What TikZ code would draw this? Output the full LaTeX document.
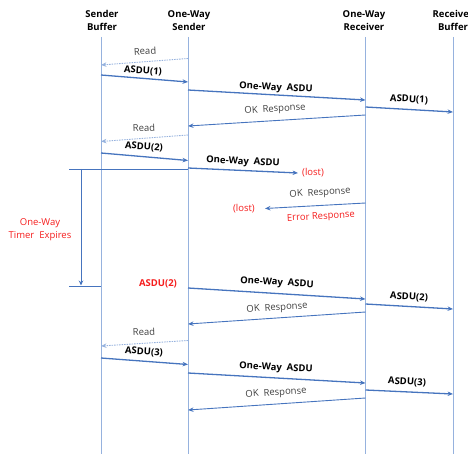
\documentclass[tikz,border=0pt]{standalone}
\usepackage{fontspec}
\setmainfont{Open Sans}
\usetikzlibrary{arrows.meta}
\definecolor{lifec}{RGB}{150,178,222}
\definecolor{arrc}{RGB}{70,116,190}
\definecolor{txtc}{RGB}{64,64,64}
\definecolor{redc}{RGB}{245,30,30}
\begin{document}
\begin{tikzpicture}[x=1pt,y=-1pt,
  font=\fontsize{9.5}{12}\selectfont,
  life/.style={draw=lifec, line width=1pt},
  tip/.style={-{Stealth[length=5.5pt,width=4.5pt]}},
  msg/.style={draw=arrc, line width=1.3pt, tip},
  resp/.style={draw=arrc, line width=0.9pt, tip},
  readarr/.style={draw=lifec, line width=0.9pt, dash pattern=on 1.5pt off 1pt, tip},
  timer/.style={draw=arrc, line width=0.8pt},
  hdr/.style={font=\bfseries\fontsize{9.5}{13}\selectfont, align=center, text=black, inner sep=0pt},
  lbl/.style={text=txtc, inner sep=0pt},
  blbl/.style={font=\bfseries\fontsize{9.5}{12}\selectfont, text=black, inner sep=0pt},
  lostlbl/.style={text=redc, inner sep=0pt},
  lostb/.style={font=\bfseries\fontsize{9.5}{12}\selectfont, text=redc, inner sep=0pt}]
\useasboundingbox (0,0) rectangle (468,454);

% headers
\node[hdr] (hSB) at (102,20.5) {Sender\\Buffer};
\node[hdr] (hSS) at (189,20.5) {One-Way\\Sender};
\node[hdr] (hOR) at (364,20.5) {One-Way\\Receiver};
\node[hdr] (hRB) at (453,20.5) {Receiver\\Buffer};

% lifelines
\coordinate (SBt) at (101,37);   \coordinate (SBb) at (101,454);
\coordinate (SSt) at (188,37);   \coordinate (SSb) at (188,454);
\coordinate (ORt) at (365.5,37); \coordinate (ORb) at (365.5,454);
\coordinate (RBt) at (453,37);   \coordinate (RBb) at (453,454);
\draw[life] (SBt) -- (SBb);
\draw[life] (SSt) -- (SSb);
\draw[life] (ORt) -- (ORb);
\draw[life] (RBt) -- (RBb);

% ---- cycle 1
\coordinate (r1a) at (188,58.5); \coordinate (r1b) at (101,65);
\draw[readarr] (r1a) -- (r1b);
\node[lbl, rotate=3] (lr1) at (145,51) {Read};
\coordinate (a1a) at (101,75); \coordinate (a1b) at (188,82);
\draw[msg] (a1a) -- (a1b);
\node[blbl, rotate=-4] (la1) at (143,71) {ASDU(1)};
\coordinate (o1a) at (188,90); \coordinate (o1b) at (365.5,100);
\draw[msg] (o1a) -- (o1b);
\node[blbl, rotate=-3] (lo1) at (276,88) {One-Way~~ASDU};
\coordinate (b1a) at (365.5,107); \coordinate (b1b) at (453,112);
\draw[msg] (b1a) -- (b1b);
\node[blbl, rotate=-3] (lb1) at (409,99.5) {ASDU(1)};
\coordinate (k1a) at (365.5,115); \coordinate (k1b) at (188,126);
\draw[resp] (k1a) -- (k1b);
\node[lbl, rotate=3.5] (lk1) at (275,109.5) {OK~~Response};

% ---- cycle 2
\coordinate (r2a) at (188,135); \coordinate (r2b) at (101,141.5);
\draw[readarr] (r2a) -- (r2b);
\node[lbl, rotate=2] (lr2) at (144,128) {Read};
\coordinate (a2a) at (101,153); \coordinate (a2b) at (188,160.5);
\draw[msg] (a2a) -- (a2b);
\node[blbl, rotate=-4] (la2) at (144,147) {ASDU(2)};
\coordinate (o2a) at (188,168); \coordinate (o2b) at (298,173);
\draw[msg] (o2a) -- (o2b);
\node[blbl, rotate=-3] (lo2) at (243,162) {One-Way~~ASDU};
\node[lostlbl, anchor=west] (lost1) at (302,173) {(lost)};
\coordinate (k2a) at (365.5,203); \coordinate (k2b) at (265,208.5);
\draw[resp] (k2a) -- (k2b);
\node[lbl, rotate=3.5] (lk2) at (320,193) {OK~~Response};
\node[lostlbl, anchor=east] (lost2) at (255,209) {(lost)};
\node[lostlbl, rotate=3] (err) at (321,217) {Error Response};

% ---- timer
\coordinate (t1a) at (69,169); \coordinate (t1b) at (188,169);
\draw[timer] (t1a) -- (t1b);
\coordinate (tva) at (81,169); \coordinate (tvb) at (81,285.5);
\draw[timer, -{Stealth[length=5pt,width=4.5pt]}] (tva) -- (tvb);
\coordinate (t2a) at (69,286); \coordinate (t2b) at (101,286);
\draw[timer] (t2a) -- (t2b);
\node[lostlbl, align=center, font=\fontsize{9.5}{13}\selectfont] (tlbl) at (40,229.5) {One-Way\\Timer~~Expires};

% ---- retransmission
\node[lostb] (la2r) at (158,284) {ASDU(2)};
\coordinate (o3a) at (188,288); \coordinate (o3b) at (365.5,299);
\draw[msg] (o3a) -- (o3b);
\node[blbl, rotate=-3.5] (lo3) at (277,283) {One-Way~~ASDU};
\coordinate (b3a) at (365.5,304); \coordinate (b3b) at (453,309);
\draw[msg] (b3a) -- (b3b);
\node[blbl, rotate=-3] (lb3) at (409,297) {ASDU(2)};
\coordinate (k3a) at (365.5,312); \coordinate (k3b) at (188,324);
\draw[resp] (k3a) -- (k3b);
\node[lbl, rotate=3.5] (lk3) at (277,308) {OK~~Response};

% ---- cycle 3
\coordinate (r4a) at (188,340.5); \coordinate (r4b) at (101,346);
\draw[readarr] (r4a) -- (r4b);
\node[lbl, rotate=2] (lr4) at (144,332) {Read};
\coordinate (a4a) at (101,358); \coordinate (a4b) at (188,364.5);
\draw[msg] (a4a) -- (a4b);
\node[blbl, rotate=-4] (la4) at (144,352) {ASDU(3)};
\coordinate (o4a) at (188,373); \coordinate (o4b) at (365.5,383);
\draw[msg] (o4a) -- (o4b);
\node[blbl, rotate=-3] (lo4) at (276,368) {One-Way~~ASDU};
\coordinate (b4a) at (365.5,390); \coordinate (b4b) at (453,394);
\draw[msg] (b4a) -- (b4b);
\node[blbl, rotate=-3] (lb4) at (407,382) {ASDU(3)};
\coordinate (k4a) at (365.5,398); \coordinate (k4b) at (188,410);
\draw[resp] (k4a) -- (k4b);
\node[lbl, rotate=3.5] (lk4) at (276,393) {OK~~Response};
\end{tikzpicture}
\end{document}
